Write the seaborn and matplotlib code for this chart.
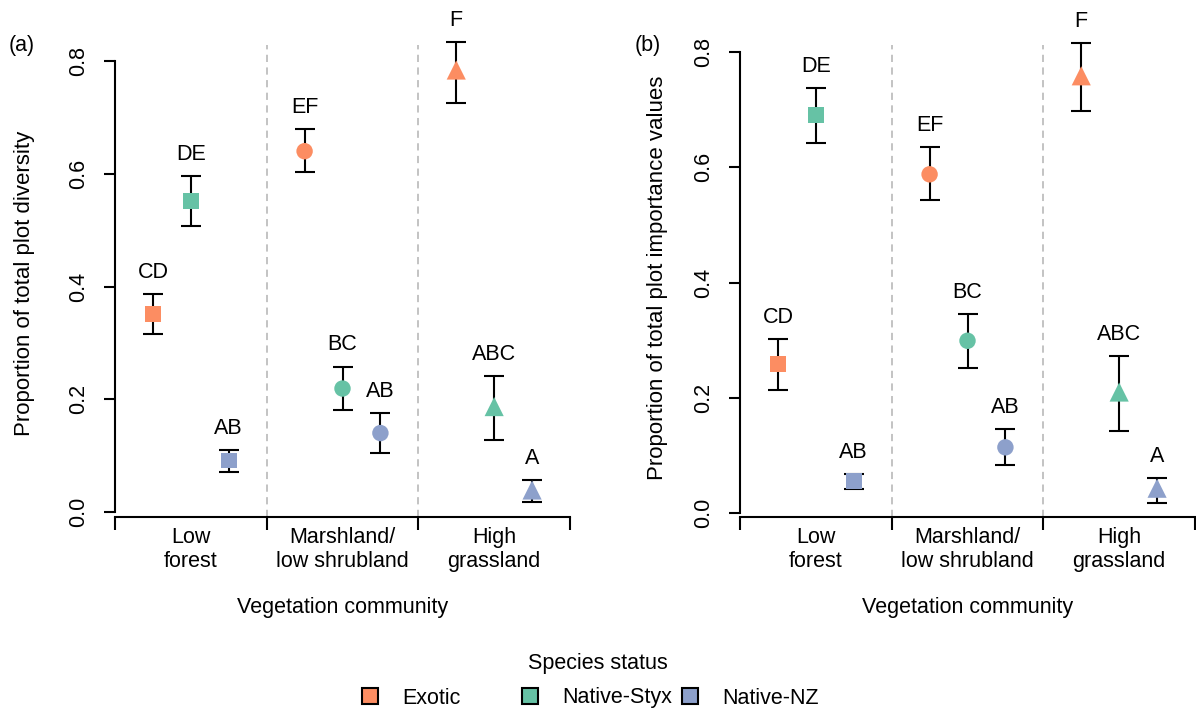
import numpy as np
import pandas as pd
import matplotlib
matplotlib.use("Agg")
import matplotlib.pyplot as plt
import seaborn as sns
from matplotlib.lines import Line2D

# ---------------- data ----------------
communities = ["Low\nforest", "Marshland/\nlow shrubland", "High\ngrassland"]
statuses = ["Exotic", "Native-Styx", "Native-NZ"]
status_colors = ["#FC8D62", "#66C2A5", "#8DA0CB"]

# order: community-major, status-minor
div_mean = [0.351, 0.552, 0.091, 0.640, 0.219, 0.140, 0.784, 0.187, 0.039]
div_low = [0.315, 0.507, 0.071, 0.603, 0.181, 0.104, 0.726, 0.127, 0.018]
div_high = [0.387, 0.596, 0.110, 0.679, 0.258, 0.175, 0.833, 0.241, 0.056]
div_letters = ["CD", "DE", "AB", "EF", "BC", "AB", "F", "ABC", "A"]

imp_mean = [0.259, 0.691, 0.056, 0.588, 0.299, 0.114, 0.759, 0.210, 0.043]
imp_low = [0.214, 0.642, 0.042, 0.543, 0.251, 0.084, 0.698, 0.143, 0.018]
imp_high = [0.302, 0.738, 0.068, 0.635, 0.345, 0.145, 0.816, 0.273, 0.060]
imp_letters = ["CD", "DE", "AB", "EF", "BC", "AB", "F", "ABC", "A"]

y_ticks = [0.0, 0.2, 0.4, 0.6, 0.8]
y_labels = ["Proportion of total plot diversity",
            "Proportion of total plot importance values"]
panel_tags = ["(a)", "(b)"]
x_title = "Vegetation community"
legend_title = "Species status"

# ---------------- style ----------------
sns.set_theme(style="white")
plt.rcParams["font.family"] = ["Liberation Sans", "DejaVu Sans"]
for k in ["text.color", "axes.labelcolor", "xtick.color", "ytick.color"]:
    plt.rcParams[k] = "black"
FS = 15.5

palette = dict(zip(statuses, status_colors))
markers = dict(zip(communities, ["s", "o", "^"]))
sizes = dict(zip(communities, [125, 140, 190]))
offsets = dict(zip(statuses, [-0.25, 0.0, 0.25]))


def make_df(mean, low, high, letters):
    rows = []
    k = 0
    for ci, c in enumerate(communities):
        for s in statuses:
            rows.append(dict(community=c, status=s, x=ci + offsets[s],
                             mean=mean[k], low=low[k], high=high[k],
                             letter=letters[k]))
            k += 1
    return pd.DataFrame(rows)


dfs = [make_df(div_mean, div_low, div_high, div_letters),
       make_df(imp_mean, imp_low, imp_high, imp_letters)]

W, H = 1196, 710
fig = plt.figure(figsize=(W / 100, H / 100), dpi=100)

# pixel geometry of the two panels
panels = [
    dict(left=115, zero=512, ppu=563.75, ylab_x=25, ylab_y=283, tag_x=22),
    dict(left=740, zero=513, ppu=576.0, ylab_x=657, ylab_y=278, tag_x=648),
]
top_px, bot_px, width_px = 45, 517, 455

for p, df, ylab, tag in zip(panels, dfs, y_labels, panel_tags):
    ax = fig.add_axes([p["left"] / W, 1 - bot_px / H, width_px / W, (bot_px - top_px) / H])
    ax.set_xlim(-0.5, 2.5)
    ax.set_ylim(-(bot_px - p["zero"]) / p["ppu"], (p["zero"] - top_px) / p["ppu"])

    # group separators
    for xb in [0.5, 1.5]:
        ax.axvline(xb, color="#BEBEBE", ls=(0, (4, 3)), lw=1.3, zorder=1)

    # error bars and letters
    for _, r in df.iterrows():
        ax.errorbar(r["x"], r["mean"],
                    yerr=[[r["mean"] - r["low"]], [r["high"] - r["mean"]]],
                    fmt="none", ecolor="black", elinewidth=1.5, capsize=7.5,
                    capthick=1.5, zorder=2, clip_on=False)
        ax.annotate(r["letter"], (r["x"], r["high"]), xytext=(0, 8),
                    textcoords="offset points", ha="center", va="bottom",
                    fontsize=FS, annotation_clip=False)

    sns.scatterplot(data=df, x="x", y="mean", hue="status", style="community",
                    size="community", sizes=sizes, markers=markers,
                    palette=palette, linewidth=0, legend=False, ax=ax,
                    zorder=3, clip_on=False)

    # axes styling (R-like)
    for s in ["top", "right"]:
        ax.spines[s].set_visible(False)
    ax.spines["left"].set_bounds(0, 0.8)
    for s in ["left", "bottom"]:
        ax.spines[s].set_linewidth(1.5)
        ax.spines[s].set_color("black")
    ax.set_yticks(y_ticks)
    ax.set_yticklabels([f"{t:.1f}" for t in y_ticks], rotation=90, va="center",
                       fontsize=FS)
    ax.tick_params(axis="y", direction="out", length=8, width=1.5, pad=10.5,
                   left=True, color="black")
    ax.set_xticks([-0.5, 0.5, 1.5, 2.5])
    ax.set_xticklabels([])
    ax.set_xticks([0, 1, 2], communities, minor=True)
    ax.tick_params(axis="x", which="major", direction="out", length=9,
                   width=1.5, bottom=True, color="black")
    ax.tick_params(axis="x", which="minor", length=0, pad=7, labelsize=FS)
    ax.set_xlabel("")
    ax.set_ylabel("")

    # labels
    cx = (p["left"] + width_px / 2) / W
    fig.text(cx, 1 - 607 / H, x_title, ha="center", va="center", fontsize=FS)
    fig.text(p["ylab_x"] / W, 1 - p["ylab_y"] / H, ylab, rotation=90,
             ha="center", va="center", fontsize=FS + 0.5)
    fig.text(p["tag_x"] / W, 1 - 45 / H, tag, ha="center", va="center",
             fontsize=FS)

# legend: title + three evenly spaced entries (R-style equal columns)
fig.text(598 / W, 1 - 664 / H, legend_title, ha="center", va="center",
         fontsize=FS)
entry_x = [370, 530, 690]  # centre of each key square, px
hl = 1.0
for name, col, xc in zip(statuses, status_colors, entry_x):
    h = Line2D([], [], marker="s", ls="none", markersize=12,
               markerfacecolor=col, markeredgecolor="black",
               markeredgewidth=1.5)
    left_px = xc - hl * FS * 100 / 72 / 2
    fig.legend([h], [name], loc="center left",
               bbox_to_anchor=(left_px / W, 1 - 698 / H), frameon=False,
               fontsize=FS, handlelength=hl, handletextpad=1.0,
               borderpad=0, borderaxespad=0)

fig.savefig("out.png", dpi=100)
